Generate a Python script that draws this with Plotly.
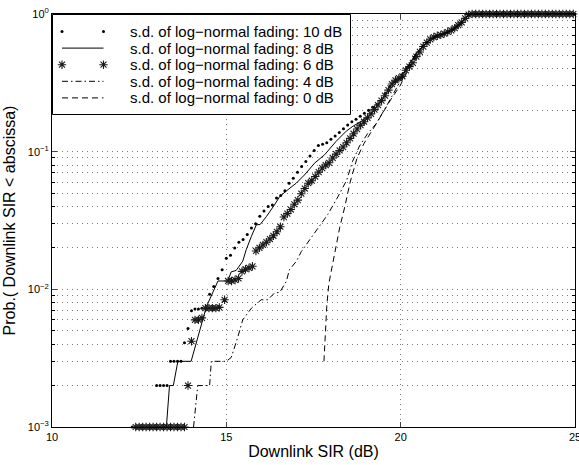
import plotly.graph_objects as go

# ---------------- data ----------------
# Downlink SIR (dB) vs Prob.(Downlink SIR < abscissa)

dots_10dB = [
    (12.30, 0.001), (12.40, 0.001), (12.50, 0.001), (12.60, 0.001), (12.70, 0.001),
    (12.80, 0.001), (12.90, 0.001),
    (13.00, 0.002), (13.10, 0.002), (13.20, 0.002), (13.30, 0.002),
    (13.40, 0.003), (13.50, 0.003), (13.60, 0.003), (13.70, 0.003),
    (13.80, 0.0041), (13.90, 0.0052), (14.00, 0.0070), (14.10, 0.0072), (14.20, 0.0072),
    (14.30, 0.0073), (14.40, 0.0073), (14.52, 0.0092), (14.64, 0.0105), (14.76, 0.0120),
    (14.88, 0.0139), (15.00, 0.0168), (15.12, 0.0177), (15.24, 0.0200), (15.36, 0.0220),
    (15.48, 0.0230), (15.60, 0.0250), (15.72, 0.0279), (15.84, 0.0300), (15.96, 0.0340),
    (16.08, 0.0370), (16.20, 0.0400), (16.32, 0.0410), (16.44, 0.0460), (16.56, 0.0480),
    (16.68, 0.0520), (16.80, 0.0590), (16.92, 0.0640), (17.04, 0.0710), (17.16, 0.0780),
    (17.28, 0.0850), (17.40, 0.0930), (17.52, 0.1020), (17.64, 0.1110), (17.76, 0.1130),
    (17.88, 0.1160), (18.00, 0.1230), (18.12, 0.1300), (18.24, 0.1380), (18.36, 0.1470),
    (18.48, 0.1560), (18.60, 0.1650), (18.72, 0.1720), (18.84, 0.1810), (18.96, 0.1900),
    (19.08, 0.2000), (19.20, 0.2100), (19.32, 0.2200), (19.44, 0.2320), (19.56, 0.2650),
    (19.68, 0.2980), (19.80, 0.3200), (19.92, 0.3360), (20.04, 0.3620), (20.16, 0.4000),
    (20.28, 0.4250), (20.40, 0.4750), (20.52, 0.5300), (20.64, 0.5800), (20.76, 0.6250),
    (20.88, 0.6600), (21.00, 0.6850), (21.12, 0.7000), (21.24, 0.7200), (21.36, 0.7450),
    (21.48, 0.7700), (21.60, 0.8100), (21.72, 0.8500), (21.84, 0.9200), (21.96, 0.9900),
    (22.08, 1.0), (22.20, 1.0), (22.32, 1.0), (22.44, 1.0), (22.56, 1.0), (22.68, 1.0),
    (22.80, 1.0), (22.92, 1.0), (23.04, 1.0), (23.16, 1.0), (23.28, 1.0), (23.40, 1.0),
    (23.52, 1.0), (23.64, 1.0), (23.76, 1.0), (23.88, 1.0), (24.00, 1.0), (24.12, 1.0),
    (24.24, 1.0), (24.36, 1.0), (24.48, 1.0), (24.60, 1.0), (24.72, 1.0), (24.84, 1.0),
    (24.96, 1.0),
]

line_8dB = [
    (13.28, 0.001), (13.37, 0.002), (13.48, 0.002), (13.61, 0.003), (13.99, 0.003),
    (14.43, 0.0075), (14.76, 0.0115), (15.04, 0.0115), (15.14, 0.0134), (15.28, 0.0137),
    (15.47, 0.0160), (15.57, 0.0194), (15.72, 0.0243), (15.86, 0.0294), (15.97, 0.0296),
    (16.15, 0.0338), (16.38, 0.0410), (16.53, 0.0472), (16.77, 0.0530), (17.01, 0.0592),
    (17.24, 0.0677), (17.53, 0.0825), (17.82, 0.0950), (18.15, 0.1190), (18.44, 0.1410),
    (18.63, 0.1530), (18.85, 0.1650), (19.11, 0.1840), (19.35, 0.2200), (19.59, 0.2670),
    (19.87, 0.3160), (20.02, 0.3510), (20.16, 0.4000), (20.45, 0.5200), (20.73, 0.6170),
    (21.02, 0.6900), (21.31, 0.7300), (21.50, 0.7700), (21.69, 0.8390), (21.88, 0.9380),
    (21.98, 1.0), (25.00, 1.0),
]

stars_6dB = [
    (12.40, 0.001), (12.50, 0.001), (12.60, 0.001), (12.70, 0.001), (12.80, 0.001),
    (12.90, 0.001), (13.00, 0.001), (13.10, 0.001), (13.20, 0.001), (13.30, 0.001),
    (13.40, 0.001), (13.50, 0.001), (13.60, 0.001), (13.70, 0.001), (13.80, 0.001),
    (13.90, 0.002), (14.00, 0.0042), (14.10, 0.0060), (14.20, 0.0060), (14.30, 0.0062),
    (14.40, 0.0073), (14.50, 0.0073), (14.60, 0.0073), (14.70, 0.0073), (14.80, 0.0074),
    (14.95, 0.0084), (15.05, 0.0115), (15.15, 0.0115), (15.25, 0.0117), (15.35, 0.0120),
    (15.45, 0.0135), (15.55, 0.0140), (15.65, 0.0143), (15.75, 0.0147), (15.85, 0.0190),
    (15.95, 0.0200), (16.05, 0.0210), (16.15, 0.0220), (16.25, 0.0232), (16.35, 0.0245),
    (16.45, 0.0262), (16.55, 0.0285), (16.65, 0.0335), (16.75, 0.0355), (16.85, 0.0380),
    (16.95, 0.0415), (17.05, 0.0445), (17.15, 0.0495), (17.25, 0.0540), (17.35, 0.0590),
    (17.45, 0.0615), (17.55, 0.0660), (17.65, 0.0710), (17.75, 0.0760), (17.85, 0.0800),
    (17.95, 0.0830), (18.05, 0.0900), (18.15, 0.0960), (18.25, 0.1020), (18.35, 0.1080),
    (18.45, 0.1160), (18.55, 0.1250), (18.65, 0.1350), (18.75, 0.1460), (18.85, 0.1560),
    (18.95, 0.1650), (19.05, 0.1760), (19.15, 0.1880), (19.25, 0.2020), (19.35, 0.2180),
    (19.45, 0.2350), (19.55, 0.2550), (19.65, 0.2800), (19.75, 0.3100), (19.85, 0.3300),
    (19.95, 0.3420), (20.05, 0.3530), (20.15, 0.3900), (20.25, 0.4150), (20.35, 0.4420),
    (20.45, 0.4900), (20.55, 0.5300), (20.65, 0.5800), (20.75, 0.6200), (20.85, 0.6550),
    (20.95, 0.6800), (21.05, 0.6950), (21.15, 0.7050), (21.25, 0.7200), (21.35, 0.7400),
    (21.45, 0.7600), (21.55, 0.7900), (21.65, 0.8300), (21.75, 0.8700), (21.85, 0.9300),
    (21.95, 0.9900),
    (22.05, 1.0), (22.15, 1.0), (22.25, 1.0), (22.35, 1.0), (22.45, 1.0), (22.55, 1.0),
    (22.65, 1.0), (22.75, 1.0), (22.85, 1.0), (22.95, 1.0), (23.05, 1.0), (23.15, 1.0),
    (23.25, 1.0), (23.35, 1.0), (23.45, 1.0), (23.55, 1.0), (23.65, 1.0), (23.75, 1.0),
    (23.85, 1.0), (23.95, 1.0), (24.05, 1.0), (24.15, 1.0), (24.25, 1.0), (24.35, 1.0),
    (24.45, 1.0), (24.55, 1.0), (24.65, 1.0), (24.75, 1.0), (24.85, 1.0), (24.95, 1.0),
]

dashdot_4dB = [
    (14.06, 0.001), (14.18, 0.002), (14.52, 0.002), (14.57, 0.003), (15.00, 0.003),
    (15.14, 0.0032), (15.33, 0.0045), (15.47, 0.0060), (15.72, 0.0073), (16.00, 0.0084),
    (16.19, 0.0084), (16.38, 0.0094), (16.53, 0.0095), (16.72, 0.0114), (16.81, 0.0139),
    (17.01, 0.0160), (17.15, 0.0188), (17.39, 0.0229), (17.58, 0.0270), (17.91, 0.0350),
    (18.20, 0.0470), (18.45, 0.0620), (18.62, 0.0850), (18.82, 0.1100), (19.05, 0.1350),
    (19.30, 0.1600), (19.55, 0.2050), (19.80, 0.2650), (20.02, 0.3350), (20.16, 0.4000),
    (20.45, 0.5200), (20.73, 0.6170), (21.02, 0.6900), (21.31, 0.7300), (21.50, 0.7700),
    (21.69, 0.8390), (21.88, 0.9380), (21.98, 1.0), (25.00, 1.0),
]

dashed_0dB = [
    (17.80, 0.0030), (17.84, 0.0050), (17.88, 0.0075), (17.94, 0.0110), (18.02, 0.0140),
    (18.10, 0.0180), (18.25, 0.0280), (18.40, 0.0400), (18.55, 0.0600), (18.75, 0.0900),
    (18.95, 0.1150), (19.20, 0.1450), (19.45, 0.1850), (19.72, 0.2400), (19.98, 0.3000),
    (20.20, 0.3900), (20.45, 0.5200), (20.73, 0.6170), (21.02, 0.6900), (21.31, 0.7300),
    (21.50, 0.7700), (21.69, 0.8390), (21.88, 0.9380), (21.98, 1.0), (25.00, 1.0),
]

legend_names = [
    "s.d. of log\u2212normal fading: 10 dB",
    "s.d. of log\u2212normal fading: 8 dB",
    "s.d. of log\u2212normal fading: 6 dB",
    "s.d. of log\u2212normal fading: 4 dB",
    "s.d. of log\u2212normal fading: 0 dB",
]

x_ticks = [10, 15, 20, 25]
y_ticks = [0.001, 0.01, 0.1, 1]
y_ticktext = ["10<sup>\u22123</sup>", "10<sup>\u22122</sup>", "10<sup>\u22121</sup>", "10<sup>0</sup>"]
y_minor = [m * 10.0 ** e for e in (-3, -2, -1) for m in range(2, 10)]

# ---------------- styles ----------------
BLACK = "black"
DOT_MARKER = dict(symbol="circle", size=3, color=BLACK)
STAR_MARKER = dict(symbol="asterisk-open", size=7, color="#1a1a1a", line=dict(width=1.1, color="#1a1a1a"))
SOLID = dict(color=BLACK, width=1)
DASHDOT = dict(color=BLACK, width=1, dash="6px,3px,1.5px,3px")
DASHED = dict(color=BLACK, width=1, dash="6px,4px")

# geometry (pixels) of the plot area and of the legend panel
W, H = 579, 465
ML, MR, MT, MB = 52, 4, 14, 38
PLOT_W, PLOT_H = W - ML - MR, H - MT - MB
LEG_W, LEG_H = 300, 102          # legend panel size in px
LEG_ROWS = [17.5, 34.1, 50.7, 67.3, 83.9]   # row centres from panel top (px)
SYM_X0, SYM_X1, TEXT_X = 10.0, 51.5, 76.0

def xy(pairs):
    return [p[0] for p in pairs], [p[1] for p in pairs]

fig = go.Figure()

x, y = xy(dots_10dB)
fig.add_trace(go.Scatter(x=x, y=y, mode="markers", name=legend_names[0], cliponaxis=False,
                         marker=DOT_MARKER, showlegend=False))
x, y = xy(line_8dB)
fig.add_trace(go.Scatter(x=x, y=y, mode="lines", name=legend_names[1], line=SOLID, showlegend=False))
x, y = xy(stars_6dB)
fig.add_trace(go.Scatter(x=x, y=y, mode="markers", name=legend_names[2], cliponaxis=False,
                         marker=STAR_MARKER, showlegend=False))
x, y = xy(dashdot_4dB)
fig.add_trace(go.Scatter(x=x, y=y, mode="lines", name=legend_names[3], line=DASHDOT, showlegend=False))
x, y = xy(dashed_0dB)
fig.add_trace(go.Scatter(x=x, y=y, mode="lines", name=legend_names[4], line=DASHED, showlegend=False))

# ---- legend panel (MATLAB style) drawn on its own overlay subplot ----
fig.add_trace(go.Scatter(x=[0.5, LEG_W - 1.5, LEG_W - 1.5, 0.5, 0.5],
                         y=[0.5, 0.5, LEG_H - 1.5, LEG_H - 1.5, 0.5],
                         mode="lines", fill="toself", fillcolor="white",
                         line=dict(color=BLACK, width=1), xaxis="x2", yaxis="y2",
                         showlegend=False, hoverinfo="skip"))
styles = [("markers", DOT_MARKER, None), ("lines", None, SOLID), ("markers", STAR_MARKER, None),
          ("lines", None, DASHDOT), ("lines", None, DASHED)]
for row, name, (mode, mk, ln) in zip(LEG_ROWS, legend_names, styles):
    kw = dict(marker=mk) if mk else dict(line=ln)
    fig.add_trace(go.Scatter(x=[SYM_X0, SYM_X1], y=[row, row], mode=mode, xaxis="x2", yaxis="y2",
                             showlegend=False, hoverinfo="skip", cliponaxis=False, **kw))
    fig.add_annotation(x=TEXT_X, y=row, xref="x2", yref="y2", text=name, showarrow=False,
                       xanchor="left", yanchor="middle", font=dict(size=15, color=BLACK))

grid_col = "#7a7a7a"
grid_dash = "1px,4px"

fig.update_layout(
    width=W, height=H,
    margin=dict(l=ML, r=MR, t=MT, b=MB, pad=0),
    paper_bgcolor="white", plot_bgcolor="white",
    font=dict(family="Liberation Sans, Arial, sans-serif", color=BLACK, size=11),
    showlegend=False,
    xaxis=dict(range=[10, 25], tickvals=x_ticks, ticks="inside", ticklen=5,
               showline=True, linecolor=BLACK, linewidth=1, mirror="ticks",
               showgrid=True, gridcolor=grid_col, griddash=grid_dash, gridwidth=1,
               zeroline=False, tickfont=dict(size=11), automargin=False,
               ticklabeloverflow="allow",
               title=dict(text="Downlink SIR (dB)", font=dict(size=16), standoff=3)),
    yaxis=dict(type="log", range=[-3, 0], tickvals=y_ticks, ticktext=y_ticktext,
               ticks="inside", ticklen=5,
               showline=True, linecolor=BLACK, linewidth=1, mirror="ticks",
               showgrid=True, gridcolor=grid_col, griddash=grid_dash, gridwidth=1,
               zeroline=False, tickfont=dict(size=11), automargin=False,
               ticklabeloverflow="allow",
               minor=dict(tickvals=y_minor, ticks="inside", ticklen=3, tickcolor=BLACK,
                          showgrid=True, gridcolor=grid_col, griddash=grid_dash, gridwidth=1),
               title=dict(text="Prob.( Downlink SIR &lt; abscissa)", font=dict(size=16), standoff=8)),
    xaxis2=dict(domain=[0, LEG_W / PLOT_W], range=[0, LEG_W], visible=False, anchor="y2"),
    yaxis2=dict(domain=[1 - LEG_H / PLOT_H, 1], range=[LEG_H, 0], visible=False, anchor="x2"),
)

fig.write_html("out.html", config={"displayModeBar": False},
               post_script="document.body.style.margin='0px';")
